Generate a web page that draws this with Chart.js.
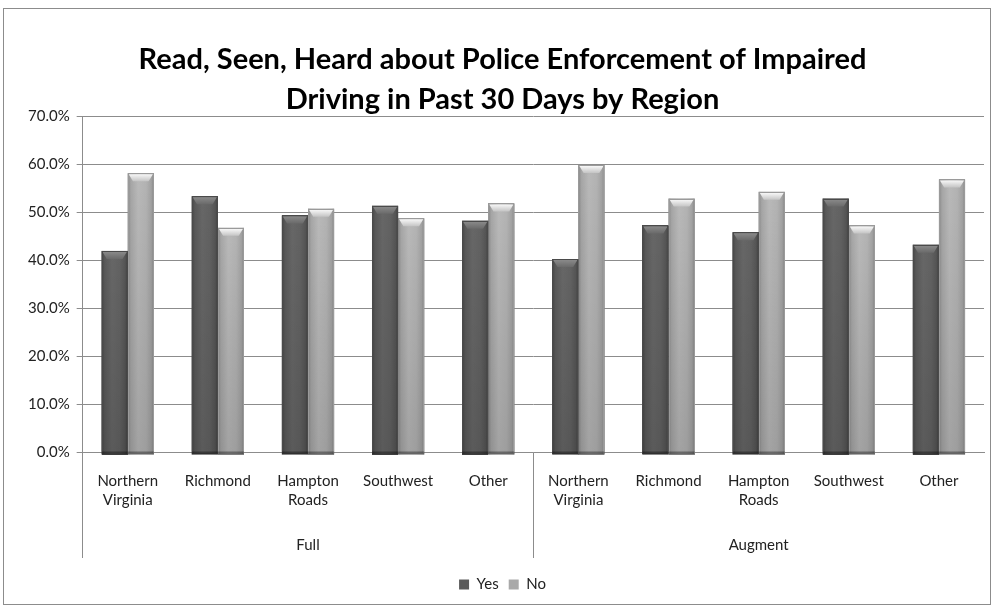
<!DOCTYPE html>
<html>
<head>
<meta charset="utf-8">
<script src="https://cdn.jsdelivr.net/npm/chart.js@4.4.1/dist/chart.umd.min.js"></script>
<style>
  html, body { margin: 0; padding: 0; background: #fff; }
  #frame {
    position: absolute; left: 3px; top: 8px;
    width: 986px; height: 595px;
    border: 1px solid #8c8c8c;
  }
  #chart { display: block; }
</style>
</head>
<body>
<div id="frame"><canvas id="chart" width="986" height="595"></canvas></div>
<script>
// Survey regions, shown once for each sample group
const regions = [["Northern", "Virginia"], "Richmond", ["Hampton", "Roads"], "Southwest", "Other"];
const groups = ["Full", "Augment"];

// Percent of respondents per region (Yes / No)
const yesFull    = [41.9, 53.3, 49.3, 51.3, 48.2];
const noFull     = [58.1, 46.7, 50.7, 48.7, 51.8];
const yesAugment = [40.2, 47.2, 45.8, 52.8, 43.2];
const noAugment  = [59.8, 52.8, 54.2, 47.2, 56.8];

const yTicks = [0, 10, 20, 30, 40, 50, 60, 70];

const labels = [...regions, ...regions];
const yesValues = [...yesFull, ...yesAugment];
const noValues = [...noFull, ...noAugment];
const groupSize = regions.length;

const FONT = "Lato";

// Palettes for the rounded "cylinder" look of each series
const shades = {
  dark: {
    body: ["#454545", "#595959", "#676767", "#626262", "#555555", "#404040"],
    cap: ["#8e8e8e", "#6a6a6a"],
    rim: "#4a4a4a"
  },
  light: {
    body: ["#8a8a8a", "#a6a6a6", "#b9b9b9", "#b3b3b3", "#a2a2a2", "#878787"],
    cap: ["#ffffff", "#c4c4c4"],
    rim: "#9a9a9a"
  }
};

// Paints each bar with a horizontal shading and a bevelled top cap
const cylinderBars = {
  id: "cylinderBars",
  afterDatasetDraw(chart, args) {
    const ctx = chart.ctx;
    const ds = chart.data.datasets[args.index];
    const pal = shades[ds.shade];
    if (!pal) return;
    ctx.save();
    args.meta.data.forEach(el => {
      const p = el.getProps(["x", "y", "base", "width"], true);
      const left = p.x - p.width / 2;
      const right = p.x + p.width / 2;
      const top = p.y;
      const bottom = p.base + 3;
      const w = right - left;
      const g = ctx.createLinearGradient(left, 0, right, 0);
      const stops = [0, 0.12, 0.4, 0.7, 0.9, 1];
      stops.forEach((s, i) => g.addColorStop(s, pal.body[i]));
      ctx.fillStyle = g;
      ctx.fillRect(left, top, w, bottom - top);
      // slight darkening toward the base
      const v = ctx.createLinearGradient(0, top, 0, bottom);
      v.addColorStop(0, "rgba(0,0,0,0)");
      v.addColorStop(1, "rgba(0,0,0,0.12)");
      ctx.fillStyle = v;
      ctx.fillRect(left, top, w, bottom - top);
      // bevelled cap
      const capH = Math.min(8, bottom - top);
      const inset = w * 0.2;
      const cg = ctx.createLinearGradient(0, top, 0, top + capH);
      cg.addColorStop(0, pal.cap[0]);
      cg.addColorStop(1, pal.cap[1]);
      ctx.fillStyle = cg;
      ctx.beginPath();
      ctx.moveTo(left + 1, top + 1);
      ctx.lineTo(right - 1, top + 1);
      ctx.lineTo(right - inset, top + capH);
      ctx.lineTo(left + inset, top + capH);
      ctx.closePath();
      ctx.fill();
      // outline
      ctx.strokeStyle = pal.rim;
      ctx.lineWidth = 1;
      ctx.strokeRect(Math.round(left) + 0.5, Math.round(top) + 0.5, Math.round(w) - 1, Math.round(bottom - top) - 1);
      // dark strip at the foot
      ctx.fillStyle = "rgba(0,0,0,0.35)";
      ctx.fillRect(left, p.base, w, 3);
    });
    ctx.restore();
  }
};

const gridGray = "#8c8c8c";

new Chart(document.getElementById("chart"), {
  type: "bar",
  data: {
    labels: labels,
    datasets: [
      { label: "Yes", data: yesValues, shade: "dark", backgroundColor: "#5a5a5a", borderWidth: 0 },
      { label: "No", data: noValues, shade: "light", backgroundColor: "#a9a9a9", borderWidth: 0 }
    ]
  },
  options: {
    responsive: false,
    animation: false,
    events: [],
    categoryPercentage: 0.58,
    barPercentage: 1.0,
    layout: { padding: { left: 17, right: 6, top: 8, bottom: 2 } },
    plugins: {
      title: {
        display: true,
        text: ["Read, Seen, Heard about Police Enforcement of Impaired", "Driving in Past 30 Days by Region"],
        color: "#000",
        font: { family: FONT, size: 29, weight: "bold", lineHeight: 1.38 },
        padding: { top: 23, bottom: -4 }
      },
      legend: {
        position: "bottom",
        labels: {
          color: "#222",
          font: { family: FONT, size: 15 },
          boxWidth: 10,
          boxHeight: 10,
          padding: 10
        }
      },
      tooltip: { enabled: false }
    },
    scales: {
      y: {
        min: 0,
        max: 70,
        afterBuildTicks(scale) { scale.ticks = yTicks.map(v => ({ value: v })); },
        ticks: {
          color: "#222",
          font: { family: FONT, size: 15 },
          padding: 7,
          callback: v => v.toFixed(1) + "%"
        },
        grid: { color: gridGray, lineWidth: 1, tickLength: 6 },
        border: { color: gridGray }
      },
      x: {
        weight: 0,
        ticks: {
          color: "#222",
          font: { family: FONT, size: 15, lineHeight: 1.3 },
          maxRotation: 0,
          autoSkip: false,
          padding: -87
        },
        grid: {
          offset: true,
          drawOnChartArea: false,
          tickLength: 106,
          color: ctx => (ctx.index % groupSize === 0 ? gridGray : "rgba(0,0,0,0)")
        },
        border: { color: gridGray },
        afterFit(scale) { scale.height = 71; }
      },
      x2: {
        type: "category",
        position: "bottom",
        weight: 1,
        labels: groups,
        offset: true,
        ticks: {
          color: "#222",
          font: { family: FONT, size: 15 },
          padding: 13
        },
        grid: { display: false, drawTicks: false },
        border: { display: false }
      }
    }
  },
  plugins: [cylinderBars]
});
</script>
</body>
</html>
